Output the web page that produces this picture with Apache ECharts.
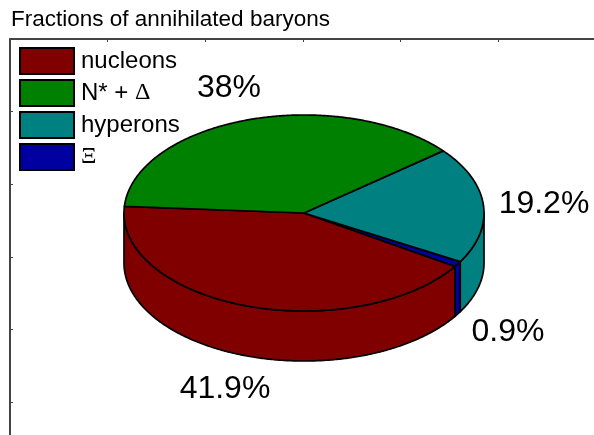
<!DOCTYPE html>
<html><head><meta charset="utf-8">
<style>html,body{margin:0;padding:0;background:#fff}#c{width:594px;height:435px}</style>
<script src="https://cdn.jsdelivr.net/npm/echarts@6/dist/echarts.min.js"></script>
</head><body><div id="c"></div>
<script>
const categories = ['nucleons', 'N* + \u0394', 'hyperons', '\u039e'];
const percentValues = [41.9, 38, 19.2, 0.9];
const percentLabels = ['41.9%', '38%', '19.2%', '0.9%'];
const colors = ['#800000', '#008000', '#008080', '#0000a0'];
const labelAnchors = [[225, 389], [229, 88], [544, 204], [508, 332]];

const CX = 304, CY = 213, RX = 180, RY = 98, DEPTH = 50, START_DEG = -33;
const total = percentValues.reduce((a, b) => a + b, 0);
const pt = (deg, dy) => [CX + RX * Math.cos(deg * Math.PI / 180), CY - RY * Math.sin(deg * Math.PI / 180) + (dy || 0)];
function arcPts(from, to, dy) {
  const n = Math.max(2, Math.ceil(Math.abs(to - from)) * 2), out = [];
  for (let i = 0; i <= n; i++) out.push(pt(from + (to - from) * i / n, dy));
  return out;
}
// clockwise slice angles, from the values
const spans = [];
let cursor = START_DEG;
percentValues.forEach(v => { const next = cursor - v / total * 360; spans.push([cursor, next]); cursor = next; });

function renderSlice(idx) {
  return function (params, api) {
    if (params.dataIndex !== 0) return null;
    const [a0, a1] = spans[idx];
    const children = [];
    const common = { stroke: '#000', lineWidth: 1.7, lineJoin: 'round', fill: colors[idx] };
    for (const k of [0, -360]) {
      const hi = Math.min(a0, k), lo = Math.max(a1, -180 + k);
      if (hi > lo) {
        const top = arcPts(hi, lo, 0), bot = arcPts(lo, hi, DEPTH);
        children.push({ type: 'polygon', z2: 1, shape: { points: top.concat(bot) }, style: common });
      }
    }
    children.push({ type: 'polygon', z2: 2, shape: { points: [[CX, CY]].concat(arcPts(a0, a1, 0)) }, style: common });
    children.push({ type: 'text', z2: 3, style: {
      text: percentLabels[idx], x: labelAnchors[idx][0], y: labelAnchors[idx][1],
      align: 'center', verticalAlign: 'middle', fill: '#000',
      font: '32px "Liberation Sans", Arial, sans-serif' } });
    return { type: 'group', children };
  };
}
const drawOrder = [0, 3, 2, 1];
const chart = echarts.init(document.getElementById('c'), null, { renderer: 'canvas' });
const axisStyle = { lineStyle: { color: '#444', width: 2 } };
const tickStyle = { lineStyle: { color: '#444', width: 1 } };
chart.setOption({
  animation: false,
  backgroundColor: '#fff',
  title: { text: 'Fractions of annihilated baryons', left: 6, top: 3,
    textStyle: { fontFamily: '"Liberation Sans", Arial, sans-serif', fontSize: 22.5, fontWeight: 'normal', color: '#000' } },
  grid: { left: 10, top: 39, right: 0, bottom: 0 },
  xAxis: { type: 'value', position: 'top', min: 0, max: 5.98, interval: 1, splitLine: { show: false },
    axisLabel: { show: false }, axisLine: { show: true, ...axisStyle }, axisTick: { show: true, inside: true, length: 3, ...tickStyle } },
  yAxis: { type: 'value', position: 'left', min: 0, max: 5.45, interval: 1, inverse: true, splitLine: { show: false },
    axisLabel: { show: false }, axisLine: { show: true, ...axisStyle }, axisTick: { show: true, inside: true, length: 3, ...tickStyle } },
  legend: { left: 14, top: 42, orient: 'vertical', itemWidth: 54, itemHeight: 26, itemGap: 4, icon: 'rect',
    data: categories,
    itemStyle: { borderColor: '#000', borderWidth: 2 },
    textStyle: { fontFamily: '"Liberation Sans", Arial, sans-serif', fontSize: 24, lineHeight: 26, color: '#000', padding: [0, 0, 0, 2],
      rich: { g: { fontFamily: '"Liberation Serif", serif', fontSize: 24, lineHeight: 26, color: '#000' } } },
    formatter: n => n.replace(/[\u0394\u039e]/g, c => '{g|' + c + '}') },
  series: drawOrder.map(i => ({
    type: 'custom', name: categories[i], coordinateSystem: 'none', silent: true,
    itemStyle: { color: colors[i] }, data: [percentValues[i]], renderItem: renderSlice(i)
  }))
});
</script></body></html>
